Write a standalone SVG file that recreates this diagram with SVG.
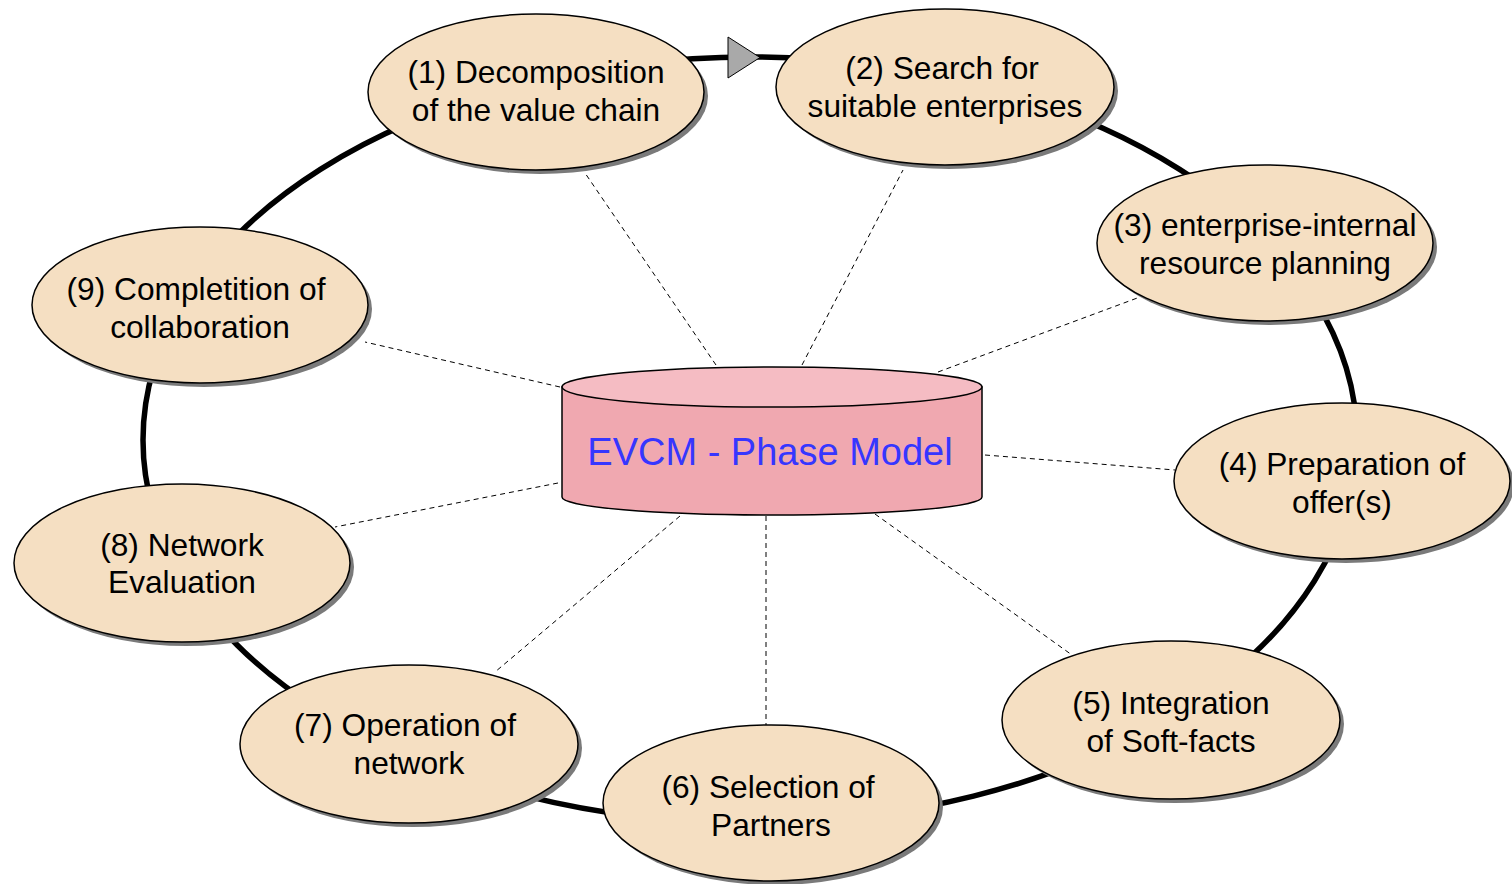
<svg xmlns="http://www.w3.org/2000/svg" width="1512" height="884" viewBox="0 0 1512 884">
<style>
.ring{fill:none;stroke:#000;stroke-width:5.5}
.dash{stroke:#000;stroke-width:1;stroke-dasharray:5,4;fill:none}
.sh{fill:#7a7a7a}
.node{fill:#f5dfc2;stroke:#000;stroke-width:1.5}
.lbl{font-family:"Liberation Sans",Arial,sans-serif;font-size:31.7px;fill:#000;text-anchor:middle}
.title{font-family:"Liberation Sans",Arial,sans-serif;font-size:38px;fill:#3636ff;text-anchor:middle}
</style>
<rect width="1512" height="884" fill="#fff"/>
<g id="connectors">
<ellipse class="ring" cx="750" cy="440" rx="607" ry="383"/>
<line class="dash" x1="716" y1="365" x2="585" y2="173"/>
<line class="dash" x1="802" y1="365" x2="903" y2="170"/>
<line class="dash" x1="938" y1="372" x2="1140" y2="297"/>
<line class="dash" x1="985" y1="455" x2="1175" y2="470"/>
<line class="dash" x1="875" y1="514" x2="1072" y2="655"/>
<line class="dash" x1="766" y1="516" x2="766" y2="725"/>
<line class="dash" x1="680" y1="516" x2="495" y2="672"/>
<line class="dash" x1="558" y1="483" x2="335" y2="527"/>
<line class="dash" x1="560" y1="387" x2="365" y2="342"/>
<polygon points="728,37 760,57.5 728,78" fill="#a9a9a9" stroke="#000" stroke-width="1"/>
</g>
<g id="center">
<path d="M562,387 L562,497 A210,18 0 0 0 982,497 L982,387 Z" fill="#f0a8b0" stroke="#000" stroke-width="1.5"/>
<ellipse cx="772" cy="387" rx="210" ry="20" fill="#f5bcc3" stroke="#000" stroke-width="1.5"/>
<text class="title" x="770" y="465">EVCM - Phase Model</text>
</g>
<g id="n1">
<ellipse class="sh" cx="540" cy="96" rx="168" ry="78"/>
<ellipse class="node" cx="536" cy="92" rx="168" ry="78"/>
<text class="lbl" x="536" y="83">(1) Decomposition</text>
<text class="lbl" x="536" y="121">of the value chain</text>
</g>
<g id="n2">
<ellipse class="sh" cx="949" cy="91" rx="169" ry="78"/>
<ellipse class="node" cx="945" cy="87" rx="169" ry="78"/>
<text class="lbl" x="942" y="79">(2) Search for</text>
<text class="lbl" x="945" y="117">suitable enterprises</text>
</g>
<g id="n3">
<ellipse class="sh" cx="1269" cy="247" rx="168" ry="78"/>
<ellipse class="node" cx="1265" cy="243" rx="168" ry="78"/>
<text class="lbl" x="1265" y="236">(3) enterprise-internal</text>
<text class="lbl" x="1265" y="274">resource planning</text>
</g>
<g id="n4">
<ellipse class="sh" cx="1346" cy="485" rx="168" ry="78"/>
<ellipse class="node" cx="1342" cy="481" rx="168" ry="78"/>
<text class="lbl" x="1342" y="475">(4) Preparation of</text>
<text class="lbl" x="1342" y="513">offer(s)</text>
</g>
<g id="n5">
<ellipse class="sh" cx="1175" cy="724" rx="169" ry="79"/>
<ellipse class="node" cx="1171" cy="720" rx="169" ry="79"/>
<text class="lbl" x="1171" y="714">(5) Integration</text>
<text class="lbl" x="1171" y="752">of Soft-facts</text>
</g>
<g id="n6">
<ellipse class="sh" cx="775" cy="807" rx="168" ry="78"/>
<ellipse class="node" cx="771" cy="803" rx="168" ry="78"/>
<text class="lbl" x="768" y="798">(6) Selection of</text>
<text class="lbl" x="771" y="836">Partners</text>
</g>
<g id="n7">
<ellipse class="sh" cx="413" cy="748" rx="169" ry="79"/>
<ellipse class="node" cx="409" cy="744" rx="169" ry="79"/>
<text class="lbl" x="405" y="736">(7) Operation of</text>
<text class="lbl" x="409" y="774">network</text>
</g>
<g id="n8">
<ellipse class="sh" cx="186" cy="567" rx="168" ry="79"/>
<ellipse class="node" cx="182" cy="563" rx="168" ry="79"/>
<text class="lbl" x="182" y="556">(8) Network</text>
<text class="lbl" x="182" y="593">Evaluation</text>
</g>
<g id="n9">
<ellipse class="sh" cx="204" cy="309" rx="168" ry="78"/>
<ellipse class="node" cx="200" cy="305" rx="168" ry="78"/>
<text class="lbl" x="196" y="300">(9) Completition of</text>
<text class="lbl" x="200" y="338">collaboration</text>
</g>
</svg>
